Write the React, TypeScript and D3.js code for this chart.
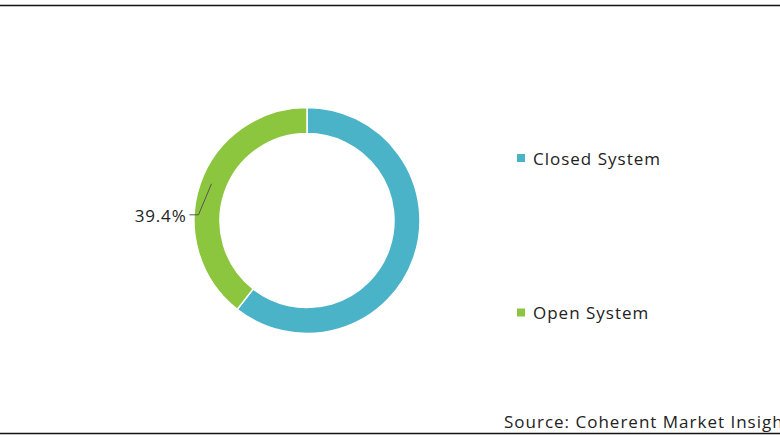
import React from "react";
import * as d3 from "d3";

const categories = ["Closed System", "Open System"];
const values = [60.6, 39.4];
const colors = ["#4BB3C8", "#8CC63F"];
const shownLabels = [false, true];
const sourceText = "Source: Coherent Market Insights";

const W = 780;
const H = 440;
const cx = 307;
const cy = 220.5;
const outerR = 113;
const innerR = 87;

export default function App() {
  const pie = d3.pie<number>().sort(null).value((d) => d);
  const arcs = pie(values);
  const arcGen = d3.arc<d3.PieArcDatum<number>>().innerRadius(innerR).outerRadius(outerR);
  const font = "Open Sans, Liberation Sans, sans-serif";

  return (
    <svg
      width={W}
      height={H}
      style={{ position: "absolute", left: 0, top: 0, background: "#fff" }}
      fontFamily={font}
    >
      <line x1={0} x2={W} y1={5.5} y2={5.5} stroke="#111" strokeWidth={1.6} />
      <line x1={0} x2={W} y1={433.5} y2={433.5} stroke="#111" strokeWidth={1.6} />
      <g transform={`translate(${cx},${cy})`}>
        {arcs.map((a, i) => (
          <path key={i} d={arcGen(a) || ""} fill={colors[i]} stroke="#fff" strokeWidth={1.5} />
        ))}
        {arcs.map((a, i) => {
          if (!shownLabels[i]) return null;
          const mid = (a.startAngle + a.endAngle) / 2;
          const r0 = (innerR + outerR) / 2;
          const px = Math.sin(mid) * r0;
          const py = -Math.cos(mid) * r0;
          const ex = px - 14;
          const ey = py + 27;
          return (
            <g key={"l" + i}>
              <polyline
                points={`${px - 1},${py - 4} ${ex},${ey} ${ex - 9},${ey}`}
                fill="none"
                stroke="#555"
                strokeWidth={1}
              />
              <text
                x={ex - 12}
                y={ey + 1}
                textAnchor="end"
                dominantBaseline="central"
                fontSize={17}
                letterSpacing={0.8}
                fill="#222"
              >
                {values[i].toFixed(1)}%
              </text>
            </g>
          );
        })}
      </g>
      {categories.map((c, i) => {
        const ly = [158, 312.5][i];
        return (
          <g key={c}>
            <rect x={517} y={ly - 4} width={8} height={8} fill={colors[i]} />
            <text
              x={533}
              y={ly}
              dominantBaseline="central"
              fontSize={17}
              letterSpacing={1}
              fill="#222"
            >
              {c}
            </text>
          </g>
        );
      })}
      <text x={504} y={428} fontSize={17} letterSpacing={1} fill="#222">
        {sourceText}
      </text>
    </svg>
  );
}
